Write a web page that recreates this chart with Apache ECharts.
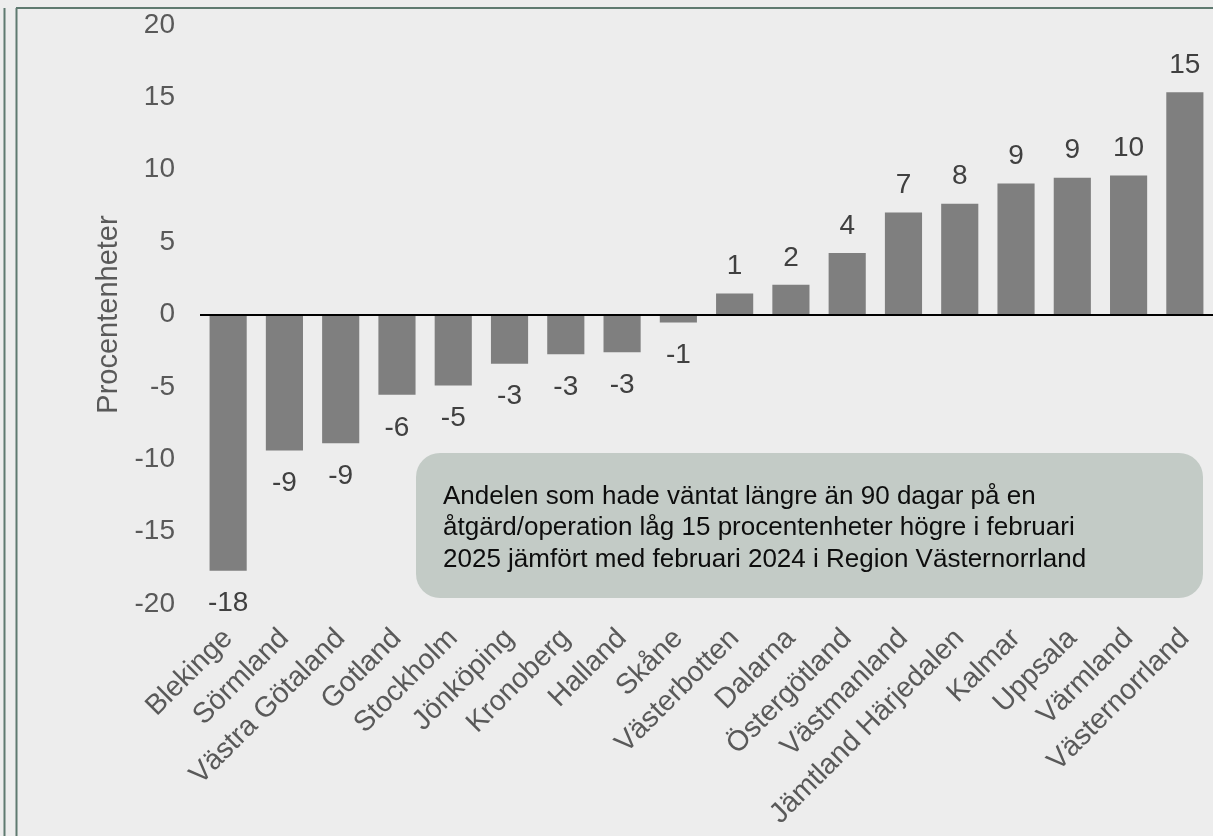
<!DOCTYPE html>
<html>
<head>
<meta charset="utf-8">
<script src="https://cdn.jsdelivr.net/npm/echarts@6/dist/echarts.min.js"></script>
<style>
html,body{margin:0;padding:0;background:#ededed;}
#chart{width:1213px;height:836px;}
</style>
</head>
<body>
<div id="chart"></div>
<script>
const categories = ['Blekinge','Sörmland','Västra Götaland','Gotland','Stockholm','Jönköping','Kronoberg','Halland','Skåne','Västerbotten','Dalarna','Östergötland','Västmanland','Jämtland Härjedalen','Kalmar','Uppsala','Värmland','Västernorrland'];
const values = [-17.7,-9.4,-8.9,-5.55,-4.9,-3.4,-2.75,-2.6,-0.55,1.45,2.05,4.25,7.05,7.65,9.05,9.45,9.6,15.35];
const yTicks = {min:-20, max:20, interval:5};
const axisName = 'Procentenheter';
const noteLines = ['Andelen som hade väntat längre än 90 dagar på en','åtgärd/operation låg 15 procentenheter högre i februari','2025 jämfört med februari 2024 i Region Västernorrland'];

const FONT = '"Liberation Sans", Arial, sans-serif';
const chart = echarts.init(document.getElementById('chart'), null, {renderer:'canvas'});
const roundAway = v => Math.sign(v) * Math.round(Math.abs(v));

const frameColor = '#5f7a70';
chart.setOption({
  backgroundColor:'#ededed',
  animation:false,
  textStyle:{fontFamily:FONT},
  grid:{left:200, right:0, top:25, bottom:232, containLabel:false},
  xAxis:{
    type:'category', data:categories, position:'bottom',
    axisLine:{show:false, onZero:false}, axisTick:{show:false},
    axisLabel:{rotate:45, interval:0, margin:30, fontSize:28.5, color:'#595959', fontFamily:FONT}
  },
  yAxis:{
    type:'value', min:yTicks.min, max:yTicks.max, interval:yTicks.interval,
    splitLine:{show:false}, axisLine:{show:false}, axisTick:{show:false},
    axisLabel:{fontSize:28, color:'#595959', margin:25, fontFamily:FONT},
    name:axisName, nameLocation:'middle', nameGap:77,
    nameTextStyle:{fontSize:29, color:'#595959', fontFamily:FONT}
  },
  series:[{
    type:'bar',
    data:values.map(v=>({value:v, label:{position: v<0?'bottom':'top', distance: v<0?19:13}})),
    barCategoryGap:'34%',
    itemStyle:{color:'#7f7f7f'},
    label:{show:true, fontSize:28, color:'#404040', fontFamily:FONT,
      formatter:p=>String(roundAway(p.value))},
    markLine:{silent:true, symbol:['none','none'], label:{show:false},
      lineStyle:{color:'#000', width:2, type:'solid'},
      data:[{yAxis:0}]}
  }],
  graphic:[
    {type:'line', shape:{x1:4.5,y1:8,x2:4.5,y2:836}, style:{stroke:frameColor, lineWidth:2}},
    {type:'line', shape:{x1:16.5,y1:8,x2:16.5,y2:836}, style:{stroke:frameColor, lineWidth:2}},
    {type:'line', shape:{x1:16,y1:8,x2:1213,y2:8}, style:{stroke:frameColor, lineWidth:2}},
    {type:'rect', shape:{x:416, y:453, width:787, height:145, r:24}, style:{fill:'#c3cbc6'}},
    {type:'text', left:443, top:481, style:{text:noteLines.join('\n'), font:'26px '+FONT, fill:'#0d0d0d', lineHeight:31.5}}
  ]
});
</script>
</body>
</html>
